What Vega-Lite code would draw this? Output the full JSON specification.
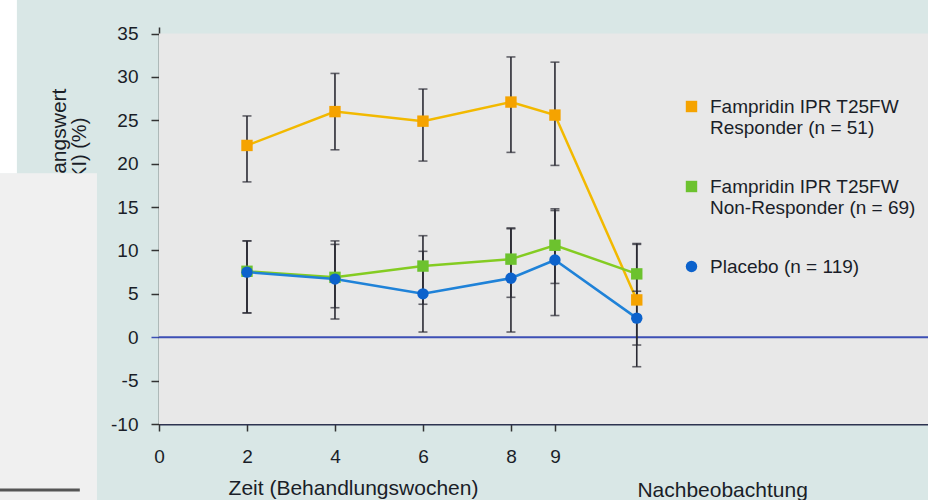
{
  "$schema": "https://vega.github.io/schema/vega-lite/v6.json",
  "width": 769,
  "height": 397,
  "autosize": {"type": "none"},
  "padding": {"left": 159, "top": 27, "right": 0, "bottom": 76},
  "background": "#d9e7e6",
  "config": {
    "view": {"stroke": null},
    "font": "Liberation Sans",
    "axis": {"labelFont": "Liberation Sans", "titleFont": "Liberation Sans"},
    "legend": {"labelFont": "Liberation Sans"}
  },
  "datasets": {
    "werte": [
      {"gruppe": "Fampridin IPR T25FW Responder (n = 51)", "woche": 2, "mittel": 22.1, "unten": 17.9, "oben": 25.5},
      {"gruppe": "Fampridin IPR T25FW Responder (n = 51)", "woche": 4, "mittel": 26.0, "unten": 21.6, "oben": 30.4},
      {"gruppe": "Fampridin IPR T25FW Responder (n = 51)", "woche": 6, "mittel": 24.9, "unten": 20.3, "oben": 28.6},
      {"gruppe": "Fampridin IPR T25FW Responder (n = 51)", "woche": 8, "mittel": 27.1, "unten": 21.3, "oben": 32.3},
      {"gruppe": "Fampridin IPR T25FW Responder (n = 51)", "woche": 9, "mittel": 25.6, "unten": 19.8, "oben": 31.7},
      {"gruppe": "Fampridin IPR T25FW Responder (n = 51)", "woche": 10.86, "mittel": 4.3, "unten": -3.4, "oben": 10.8},
      {"gruppe": "Fampridin IPR T25FW Non-Responder (n = 69)", "woche": 2, "mittel": 7.6, "unten": 2.8, "oben": 11.1},
      {"gruppe": "Fampridin IPR T25FW Non-Responder (n = 69)", "woche": 4, "mittel": 6.9, "unten": 2.1, "oben": 11.1},
      {"gruppe": "Fampridin IPR T25FW Non-Responder (n = 69)", "woche": 6, "mittel": 8.2, "unten": 3.8, "oben": 11.7},
      {"gruppe": "Fampridin IPR T25FW Non-Responder (n = 69)", "woche": 8, "mittel": 9.0, "unten": 4.6, "oben": 12.6},
      {"gruppe": "Fampridin IPR T25FW Non-Responder (n = 69)", "woche": 9, "mittel": 10.6, "unten": 6.2, "oben": 14.8},
      {"gruppe": "Fampridin IPR T25FW Non-Responder (n = 69)", "woche": 10.86, "mittel": 7.3, "unten": 3.8, "oben": 10.7},
      {"gruppe": "Placebo (n = 119)", "woche": 2, "mittel": 7.5, "unten": 2.8, "oben": 11.1},
      {"gruppe": "Placebo (n = 119)", "woche": 4, "mittel": 6.7, "unten": 3.4, "oben": 10.7},
      {"gruppe": "Placebo (n = 119)", "woche": 6, "mittel": 5.0, "unten": 0.6, "oben": 9.9},
      {"gruppe": "Placebo (n = 119)", "woche": 8, "mittel": 6.8, "unten": 0.6, "oben": 12.5},
      {"gruppe": "Placebo (n = 119)", "woche": 9, "mittel": 8.9, "unten": 2.5, "oben": 14.6},
      {"gruppe": "Placebo (n = 119)", "woche": 10.86, "mittel": 2.2, "unten": -0.9, "oben": 5.3}
    ]
  },
  "layer": [
    {
      "data": {"values": [{}]},
      "mark": {"type": "rect", "color": "#e8e8e8"},
      "encoding": {
        "x": {"datum": 0, "type": "quantitative", "scale": {"domain": [0, 17.48], "nice": false}},
        "x2": {"datum": 17.48},
        "y": {"datum": 35, "type": "quantitative", "scale": {"domain": [-10, 35.75], "nice": false, "zero": false}},
        "y2": {"datum": -10}
      }
    },
    {
      "data": {"values": [{}]},
      "mark": {"type": "rule", "color": "#3d4fb5", "strokeWidth": 2},
      "encoding": {"y": {"datum": 0, "type": "quantitative"}}
    },
    {
      "data": {"name": "werte"},
      "mark": {"type": "line", "strokeWidth": 2.5},
      "encoding": {
        "x": {"field": "woche", "type": "quantitative"},
        "y": {"field": "mittel", "type": "quantitative"},
        "stroke": {
          "field": "gruppe", "type": "nominal",
          "scale": {
            "domain": ["Fampridin IPR T25FW Responder (n = 51)", "Fampridin IPR T25FW Non-Responder (n = 69)", "Placebo (n = 119)"],
            "range": ["#f2b900", "#84cc22", "#1f82d8"]
          }
        }
      }
    },
    {
      "data": {"name": "werte"},
      "mark": {"type": "errorbar", "ticks": {"size": 9}, "color": "#2a2a33", "thickness": 1.6},
      "encoding": {
        "x": {"field": "woche", "type": "quantitative"},
        "y": {"field": "unten", "type": "quantitative"},
        "y2": {"field": "oben"}
      }
    },
    {
      "data": {"name": "werte"},
      "mark": {"type": "point", "filled": true, "size": 130, "opacity": 1},
      "encoding": {
        "x": {
          "field": "woche", "type": "quantitative",
          "axis": {
            "values": [0, 2, 4, 6, 8, 9, 12.8],
            "labelExpr": "datum.value > 10 ? ['', 'Nachbeobachtung'] : datum.label",
            "labelFontSize": {"condition": {"test": "datum.value > 10", "value": 21}, "value": 19},
            "labelColor": "#1a1e28", "labelPadding": 16, "labelLineHeight": 32,
            "labelOverlap": false, "labelFlush": false,
            "tickSize": 7, "tickWidth": 1.5,
            "tickColor": {"condition": {"test": "datum.value > 10", "value": "transparent"}, "value": "#333"},
            "domainColor": "#2d3350", "domainWidth": 2,
            "grid": false,
            "title": "Zeit (Behandlungswochen)",
            "titleFontSize": 21, "titleFontWeight": "normal", "titleColor": "#1a1e28",
            "titleX": 194, "titleY": 70, "titleBaseline": "alphabetic", "titleAlign": "center"
          }
        },
        "y": {
          "field": "mittel", "type": "quantitative",
          "axis": {
            "values": [-10, -5, 0, 5, 10, 15, 20, 25, 30, 35],
            "labelExpr": "'' + datum.value",
            "labelFontSize": 19, "labelColor": "#1a1e28", "labelPadding": 13,
            "tickSize": 8, "tickWidth": 1.5,
            "tickColor": {"condition": {"test": "datum.value == 0", "value": "#3d4fb5"}, "value": "#333"},
            "domainColor": "#333", "domainWidth": 1.5,
            "grid": false,
            "title": null
          }
        },
        "fill": {
          "field": "gruppe", "type": "nominal",
          "scale": {
            "domain": ["Fampridin IPR T25FW Responder (n = 51)", "Fampridin IPR T25FW Non-Responder (n = 69)", "Placebo (n = 119)"],
            "range": ["#f5a300", "#6cc22e", "#0c62cc"]
          },
          "legend": {
            "orient": "none", "legendX": 523, "legendY": 70, "title": null,
            "labelFontSize": 19, "labelColor": "#1a1e28", "labelLimit": 0, "labelOffset": 9,
            "labelExpr": "indexof(datum.label, 'T25FW ') > 0 ? split(replace(datum.label, 'T25FW ', 'T25FW|'), '|') : datum.label",
            "symbolSize": 130, "symbolStrokeWidth": 0, "rowPadding": 39
          }
        },
        "shape": {
          "field": "gruppe", "type": "nominal",
          "scale": {
            "domain": ["Fampridin IPR T25FW Responder (n = 51)", "Fampridin IPR T25FW Non-Responder (n = 69)", "Placebo (n = 119)"],
            "range": ["square", "square", "circle"]
          }
        }
      }
    },
    {
      "data": {"values": [{}]},
      "mark": {"type": "text", "text": "Veränderung gegenüber Ausgangswert", "angle": 270, "align": "right", "baseline": "middle", "fontSize": 21, "color": "#1a1e28"},
      "encoding": {
        "x": {"datum": -2.25, "type": "quantitative"},
        "y": {"datum": 28.65, "type": "quantitative"}
      }
    },
    {
      "data": {"values": [{}]},
      "mark": {"type": "text", "text": "(95%-KI) (%)", "angle": 270, "align": "right", "baseline": "middle", "fontSize": 20, "color": "#1a1e28"},
      "encoding": {
        "x": {"datum": -1.8, "type": "quantitative"},
        "y": {"datum": 25.3, "type": "quantitative"}
      }
    },
    {
      "data": {"values": [{}]},
      "mark": {"type": "rect", "color": "#f0f0f0"},
      "encoding": {
        "x": {"datum": -3.62, "type": "quantitative"},
        "x2": {"datum": -1.41},
        "y": {"datum": 18.9, "type": "quantitative"},
        "y2": {"datum": -19}
      }
    },
    {
      "data": {"values": [{}]},
      "mark": {"type": "rect", "color": "#ffffff"},
      "encoding": {
        "x": {"datum": -3.62, "type": "quantitative"},
        "x2": {"datum": -3.23},
        "y": {"datum": 39, "type": "quantitative"},
        "y2": {"datum": 18.9}
      }
    },
    {
      "data": {"values": [{}]},
      "mark": {"type": "rule", "color": "#555555", "strokeWidth": 3},
      "encoding": {
        "x": {"datum": -3.62, "type": "quantitative"},
        "x2": {"datum": -1.8},
        "y": {"datum": -17.6, "type": "quantitative"}
      }
    }
  ]
}
